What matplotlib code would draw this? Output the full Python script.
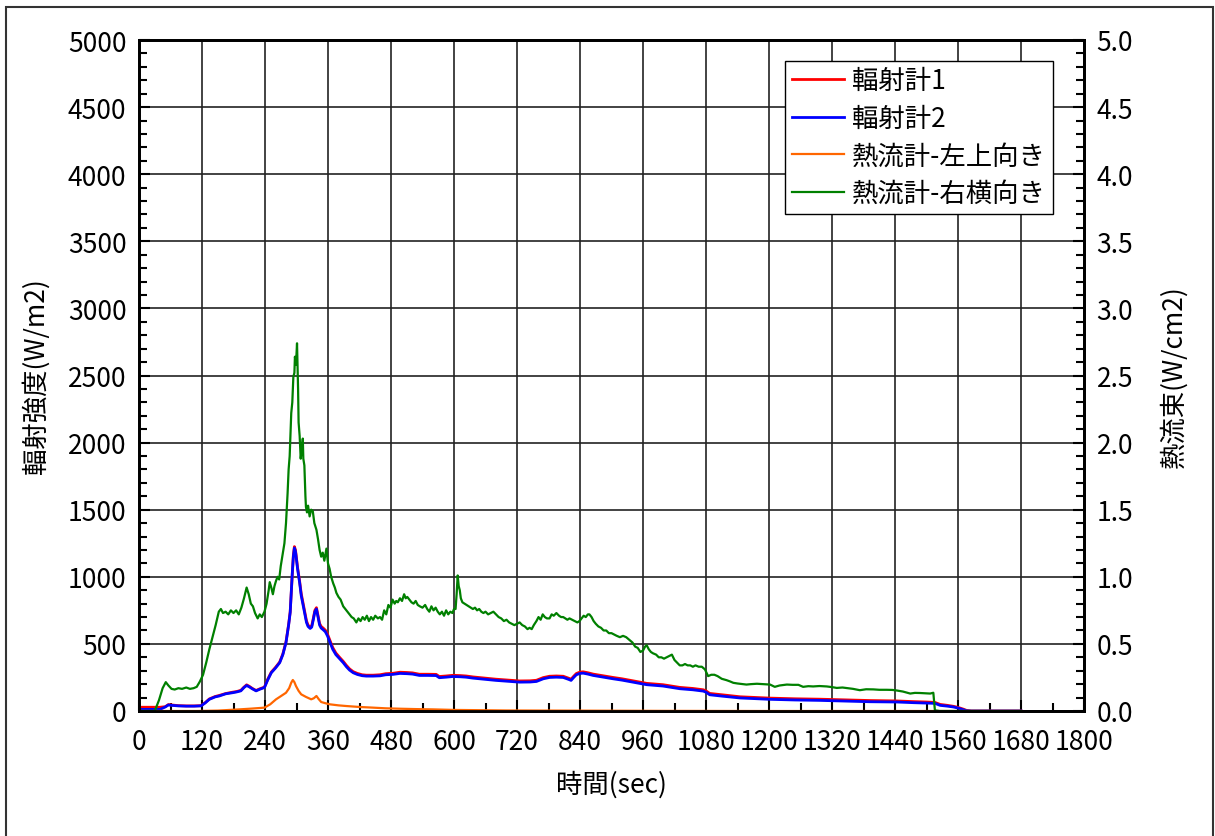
import numpy as np
import matplotlib
matplotlib.use("Agg")
import matplotlib.pyplot as plt
from matplotlib.patches import Rectangle
from matplotlib.ticker import MultipleLocator, FormatStrFormatter

plt.rcParams['font.family'] = ['Noto Sans CJK JP', 'DejaVu Sans']

# ── data ──
# 輻射計2 (W/m2)
t_rad2 = [0, 40, 50, 56, 62, 75, 90, 105, 118, 126, 134, 145, 153, 165, 178, 186, 194, 200, 205, 210,
          216, 223, 230, 239, 245, 252, 260, 268, 274, 280, 285, 288, 290, 292, 294, 296, 298, 299, 302, 306,
          309, 313, 316, 319, 322, 326, 329, 332, 335, 338, 341, 344, 347, 351, 355, 359, 363, 369, 375, 382,
          389, 395, 401, 408, 416, 425, 433, 446, 459, 470, 484, 497, 510, 521, 534, 550, 566, 572, 585, 598,
          612, 623, 636, 649, 665, 680, 700, 725, 745, 757, 770, 782, 795, 808, 818, 823, 828, 833, 840, 846,
          855, 865, 880, 903, 920, 941, 955, 967, 985, 998, 1015, 1030, 1055, 1075, 1080, 1087, 1110, 1145, 1175, 1202,
          1250, 1297, 1345, 1392, 1443, 1475, 1500, 1516, 1522, 1526, 1540, 1551, 1560, 1570, 1576, 1585, 1680]
rad2 = [12, 12, 30, 45, 42, 38, 36, 36, 38, 60, 87, 105, 112, 128, 136, 142, 150, 175, 190, 180,
        165, 150, 162, 175, 230, 285, 320, 360, 420, 510, 640, 735, 880, 1030, 1150, 1215, 1190, 1160, 1060, 955,
        860, 780, 720, 660, 630, 615, 625, 680, 740, 760, 700, 640, 618, 605, 590, 560, 520, 460, 420, 390,
        360, 330, 305, 285, 272, 263, 260, 260, 262, 270, 273, 280, 278, 275, 265, 265, 264, 248, 252, 257,
        255, 252, 245, 240, 234, 228, 222, 215, 216, 220, 240, 250, 252, 250, 236, 228, 250, 270, 280, 282,
        275, 265, 255, 240, 230, 215, 205, 196, 190, 186, 175, 166, 158, 148, 140, 121, 111, 97, 92, 87,
        82, 79, 74, 69, 67, 62, 59, 57, 48, 42, 36, 30, 22, 10, 2, 0, 0]

# 輻射計1 (W/m2)
t_rad1 = t_rad2
rad1 = [28, 28, 32, 48, 45, 40, 38, 38, 40, 62, 90, 108, 116, 130, 140, 145, 154, 178, 195, 184,
        168, 153, 165, 178, 235, 290, 325, 365, 425, 515, 645, 740, 885, 1035, 1160, 1225, 1200, 1170, 1070, 965,
        875, 795, 735, 672, 640, 625, 635, 690, 750, 770, 712, 652, 630, 617, 602, 573, 533, 473, 432, 400,
        370, 340, 314, 293, 280, 270, 267, 267, 270, 278, 281, 289, 287, 284, 274, 274, 273, 257, 261, 266,
        264, 261, 254, 249, 243, 237, 231, 224, 225, 229, 249, 259, 261, 259, 245, 237, 259, 279, 290, 292,
        285, 275, 265, 250, 240, 225, 215, 206, 200, 196, 185, 176, 168, 158, 150, 131, 121, 106, 101, 96,
        91, 88, 83, 78, 75, 70, 67, 64, 55, 49, 42, 35, 27, 14, 5, 0, 0]

# 熱流計-左上向き (W/cm2)
t_hf_up = [0, 110, 150, 191, 215, 239, 250, 261, 270, 280, 286, 290, 293, 296, 299, 304, 309, 318, 328, 333,
           338, 342, 347, 355, 363, 380, 395, 420, 446, 470, 497, 530, 560, 600, 650, 700, 800, 900, 1000, 1200, 1680]
hf_up = [0, 0, 0.003, 0.012, 0.018, 0.025, 0.05, 0.087, 0.11, 0.136, 0.17, 0.211, 0.231, 0.215, 0.186, 0.15, 0.124, 0.105, 0.087, 0.095,
         0.112, 0.09, 0.067, 0.058, 0.05, 0.042, 0.037, 0.03, 0.025, 0.02, 0.017, 0.014, 0.012, 0.008, 0.006, 0.004, 0.003, 0.002, 0.001, 0.0, 0.0]

# 熱流計-右横向き (W/cm2)
t_hf_side = [0, 30, 38, 45, 51, 56, 62, 68, 75, 82, 90, 97, 104, 110, 116, 122, 128, 134, 140, 146,
             152, 156, 160, 165, 170, 175, 180, 185, 190, 195, 200, 205, 209, 213, 217, 221, 226, 230, 234, 239,
             243, 247, 249, 252, 255, 258, 261, 264, 267, 270, 274, 277, 280, 283, 285, 287, 290, 292, 294, 296,
             297, 299, 301, 303, 304, 306, 308, 310, 312, 313, 315, 317, 318, 320, 322, 325, 328, 331, 334, 338,
             341, 344, 347, 350, 353, 357, 360, 363, 366, 370, 373, 376, 380, 384, 389, 393, 397, 401, 405, 409,
             414, 418, 422, 426, 430, 434, 438, 442, 446, 450, 455, 459, 463, 467, 471, 475, 479, 483, 487, 490,
             493, 497, 501, 505, 508, 511, 515, 519, 523, 527, 531, 535, 540, 545, 549, 553, 557, 561, 565, 569,
             573, 577, 581, 585, 589, 593, 597, 600, 603, 605, 607, 609, 611, 613, 616, 620, 624, 628, 632, 636,
             640, 644, 648, 652, 656, 660, 665, 670, 675, 680, 685, 690, 695, 700, 705, 710, 715, 720, 725, 730,
             735, 740, 744, 748, 752, 757, 761, 765, 769, 773, 777, 782, 786, 790, 795, 800, 804, 808, 812, 816,
             820, 825, 830, 835, 839, 843, 847, 851, 855, 858, 862, 866, 870, 875, 880, 885, 890, 895, 900, 905,
             910, 916, 922, 928, 934, 940, 945, 950, 955, 960, 964, 967, 971, 975, 979, 985, 990, 995, 1000, 1005,
             1010, 1015, 1020, 1025, 1030, 1035, 1040, 1045, 1050, 1055, 1060, 1066, 1072, 1078, 1084, 1090, 1096, 1102, 1110, 1119,
             1126, 1132, 1140, 1150, 1157, 1165, 1177, 1190, 1202, 1211, 1220, 1234, 1245, 1256, 1265, 1275, 1284, 1296, 1310, 1320,
             1329, 1340, 1348, 1360, 1373, 1385, 1399, 1410, 1424, 1435, 1443, 1455, 1469, 1478, 1488, 1498, 1507, 1513, 1516, 1525,
             1680]
hf_side = [0.0, 0.0, 0.08, 0.17, 0.215, 0.19, 0.165, 0.16, 0.17, 0.165, 0.175, 0.165, 0.17, 0.18, 0.22, 0.27, 0.36, 0.46, 0.55, 0.64,
           0.74, 0.76, 0.73, 0.74, 0.72, 0.75, 0.73, 0.75, 0.72, 0.77, 0.84, 0.92, 0.87, 0.80, 0.78, 0.73, 0.69, 0.72, 0.70, 0.74,
           0.80, 0.90, 0.96, 0.92, 0.87, 0.93, 0.97, 1.00, 0.98, 1.08, 1.18, 1.25, 1.40, 1.62, 1.80, 1.90, 2.22, 2.30, 2.49, 2.52,
           2.64, 2.58, 2.74, 2.40, 2.15, 2.05, 1.88, 1.95, 2.03, 1.88, 1.83, 1.60, 1.52, 1.48, 1.53, 1.45, 1.50, 1.49, 1.40, 1.35,
           1.28, 1.20, 1.15, 1.18, 1.12, 1.21, 1.10, 1.06, 1.00, 0.95, 0.92, 0.88, 0.85, 0.83, 0.78, 0.76, 0.74, 0.72, 0.70, 0.69,
           0.66, 0.69, 0.67, 0.70, 0.68, 0.71, 0.67, 0.70, 0.68, 0.71, 0.69, 0.70, 0.68, 0.75, 0.72, 0.79, 0.77, 0.83, 0.80, 0.82,
           0.81, 0.84, 0.82, 0.87, 0.84, 0.85, 0.83, 0.81, 0.80, 0.82, 0.79, 0.78, 0.77, 0.79, 0.76, 0.74, 0.78, 0.75, 0.77, 0.74,
           0.72, 0.74, 0.71, 0.75, 0.72, 0.74, 0.73, 0.76, 0.76, 0.87, 1.01, 0.93, 0.90, 0.84, 0.81, 0.80, 0.79, 0.78, 0.77, 0.76,
           0.77, 0.75, 0.76, 0.74, 0.73, 0.74, 0.72, 0.73, 0.74, 0.72, 0.70, 0.69, 0.67, 0.68, 0.66, 0.65, 0.64, 0.65, 0.66, 0.64,
           0.63, 0.61, 0.62, 0.61, 0.64, 0.67, 0.70, 0.68, 0.72, 0.70, 0.69, 0.69, 0.72, 0.71, 0.73, 0.71, 0.70, 0.70, 0.69, 0.68,
           0.69, 0.68, 0.67, 0.66, 0.67, 0.69, 0.71, 0.70, 0.72, 0.72, 0.70, 0.67, 0.65, 0.63, 0.62, 0.60, 0.60, 0.58, 0.58, 0.57,
           0.56, 0.55, 0.56, 0.55, 0.53, 0.51, 0.48, 0.47, 0.44, 0.45, 0.48, 0.49, 0.46, 0.44, 0.43, 0.42, 0.40, 0.40, 0.39, 0.40,
           0.41, 0.42, 0.38, 0.36, 0.34, 0.34, 0.35, 0.34, 0.34, 0.33, 0.34, 0.33, 0.33, 0.31, 0.26, 0.27, 0.27, 0.26, 0.24, 0.23,
           0.22, 0.21, 0.205, 0.20, 0.197, 0.20, 0.203, 0.20, 0.197, 0.18, 0.19, 0.197, 0.195, 0.195, 0.18, 0.185, 0.183, 0.186, 0.183, 0.178,
           0.172, 0.175, 0.171, 0.165, 0.155, 0.162, 0.161, 0.158, 0.158, 0.157, 0.153, 0.145, 0.13, 0.135, 0.134, 0.132, 0.13, 0.136, 0.005, 0.0,
           0.0]

labels = ["輻射計1", "輻射計2", "熱流計-左上向き", "熱流計-右横向き"]
colors = ["#ff0000", "#0000ff", "#ff6600", "#008000"]

# ── plot ──
FS = 19
fig = plt.figure(figsize=(12.15, 8.37), dpi=100)
fig.patches.append(Rectangle((6 / 1215, -0.01), 1207 / 1215, 1 - 8 / 837 + 0.01,
                             transform=fig.transFigure, fill=False,
                             edgecolor="#333333", linewidth=1.5))
ax = fig.add_axes([139 / 1215, 1 - 712 / 837, 945 / 1215, 671 / 837])
ax2 = ax.twinx()

l1, = ax.plot(t_rad1, rad1, color=colors[0], linewidth=2)
l2, = ax.plot(t_rad2, rad2, color=colors[1], linewidth=2)
l3, = ax2.plot(t_hf_up, hf_up, color=colors[2], linewidth=1.6)
l4, = ax2.plot(t_hf_side, hf_side, color=colors[3], linewidth=1.6)

ax.set_xlim(0, 1800)
ax.set_ylim(0, 5000)
ax2.set_ylim(0, 5.0)
ax.xaxis.set_major_locator(MultipleLocator(120))
ax.xaxis.set_minor_locator(MultipleLocator(60))
ax.yaxis.set_major_locator(MultipleLocator(500))
ax.yaxis.set_minor_locator(MultipleLocator(100))
ax2.yaxis.set_major_locator(MultipleLocator(0.5))
ax2.yaxis.set_minor_locator(MultipleLocator(0.1))
ax2.yaxis.set_major_formatter(FormatStrFormatter("%.1f"))

ax.grid(True, which="major", color="#222222", linewidth=1.2)
for a in (ax, ax2):
    a.tick_params(which="major", direction="in", length=8, width=1.5, labelsize=FS, pad=9)
    a.tick_params(which="minor", direction="in", length=6, width=1.5)
    for s in a.spines.values():
        s.set_linewidth(2)
ax.tick_params(top=False, right=False, which="both")
ax.tick_params(axis="x", pad=12)

ax.set_xlabel("時間(sec)", fontsize=FS)
ax.set_ylabel("輻射強度(W/m2)", fontsize=FS)
ax2.set_ylabel("熱流束(W/cm2)", fontsize=FS)
ax.xaxis.set_label_coords(0.5, -0.089)
ax.yaxis.set_label_coords(-0.094, 0.5)
ax2.yaxis.set_label_coords(1.080, 0.5)

leg = ax2.legend([l1, l2, l3, l4], labels, loc="upper right",
                 bbox_to_anchor=(0.967, 0.969), fontsize=FS, frameon=True,
                 fancybox=False, edgecolor="black", framealpha=1,
                 handlelength=2.0, labelspacing=0.4, borderpad=0.25,
                 handletextpad=0.3, borderaxespad=0)
leg.get_frame().set_linewidth(1)

fig.savefig("out.png", dpi=100)
